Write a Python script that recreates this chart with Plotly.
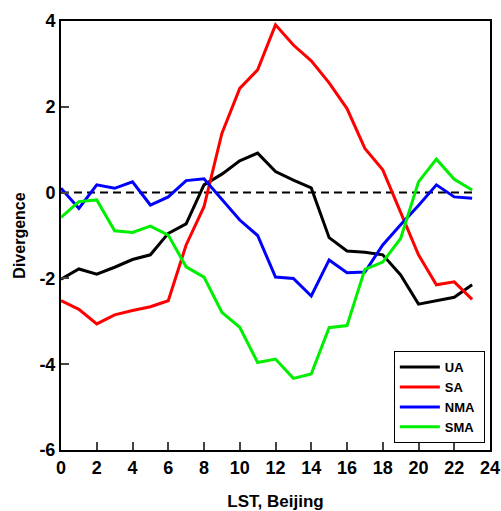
import plotly.graph_objects as go

hours = list(range(24))
ua = [-2.02, -1.78, -1.90, -1.74, -1.56, -1.45, -0.95, -0.73, 0.18, 0.43, 0.74, 0.92,
      0.49, 0.29, 0.11, -1.05, -1.36, -1.39, -1.45, -1.92, -2.60, -2.52, -2.44, -2.15]
sa = [-2.52, -2.72, -3.06, -2.85, -2.75, -2.66, -2.52, -1.22, -0.33, 1.38, 2.43, 2.86,
      3.91, 3.44, 3.07, 2.56, 1.96, 1.03, 0.53, -0.48, -1.45, -2.15, -2.08, -2.49]
nma = [0.10, -0.37, 0.18, 0.10, 0.25, -0.29, -0.10, 0.28, 0.32, -0.17, -0.64, -1.00,
       -1.97, -2.00, -2.41, -1.57, -1.87, -1.85, -1.22, -0.75, -0.30, 0.18, -0.10, -0.13]
sma = [-0.58, -0.21, -0.17, -0.89, -0.93, -0.78, -0.99, -1.73, -1.97, -2.79, -3.14, -3.96,
       -3.88, -4.33, -4.23, -3.15, -3.10, -1.79, -1.62, -1.07, 0.25, 0.78, 0.31, 0.06]

series = [("UA", ua, "black"), ("SA", sa, "#ff0000"), ("NMA", nma, "#0000ff"), ("SMA", sma, "#00ee00")]
zero_x = [0, 23]
zero_y = [0, 0]
x_ticks = list(range(0, 25, 2))
y_ticks = [-6, -4, -2, 0, 2, 4]

fig = go.Figure()
fig.add_trace(go.Scatter(x=zero_x, y=zero_y, mode="lines", showlegend=False,
                         line=dict(color="black", width=2, dash="8px,5px")))
for name, vals, col in series:
    fig.add_trace(go.Scatter(x=hours, y=vals, mode="lines", name=name + "\u00a0",
                             line=dict(color=col, width=3)))

font = "Arial"
fig.update_layout(
    width=501, height=511,
    margin=dict(l=61, r=11, t=21, b=61, autoexpand=False),
    paper_bgcolor="white", plot_bgcolor="white",
    font=dict(family=font, color="black", weight=700),
    showlegend=True,
    legend=dict(x=0.988, y=0.016, xanchor="right", yanchor="bottom",
                bordercolor="black", borderwidth=1, bgcolor="white",
                font=dict(size=13, family=font, weight=700),
                tracegroupgap=0, itemwidth=40),
)
fig.update_xaxes(range=[0, 24], tickvals=x_ticks, ticktext=["%d" % v for v in x_ticks],
                 ticks="inside", ticklen=8, automargin=False,
                 tickwidth=1.5, showline=True, linewidth=2, linecolor="black", mirror=True,
                 showgrid=False, zeroline=False,
                 tickfont=dict(size=18, family=font, weight=700),
                 title=dict(text="LST, Beijing", font=dict(size=17, family=font, weight=700), standoff=20))
fig.update_yaxes(range=[-6, 4], tickvals=y_ticks, ticktext=["%d" % v for v in y_ticks],
                 ticks="inside", ticklen=8, automargin=False,
                 tickwidth=1.5, showline=True, linewidth=2, linecolor="black", mirror=True,
                 showgrid=False, zeroline=False,
                 tickfont=dict(size=18, family=font, weight=700),
                 title=dict(text="Divergence", font=dict(size=16, family=font, weight=700), standoff=10))

fig.write_html("out.html")
